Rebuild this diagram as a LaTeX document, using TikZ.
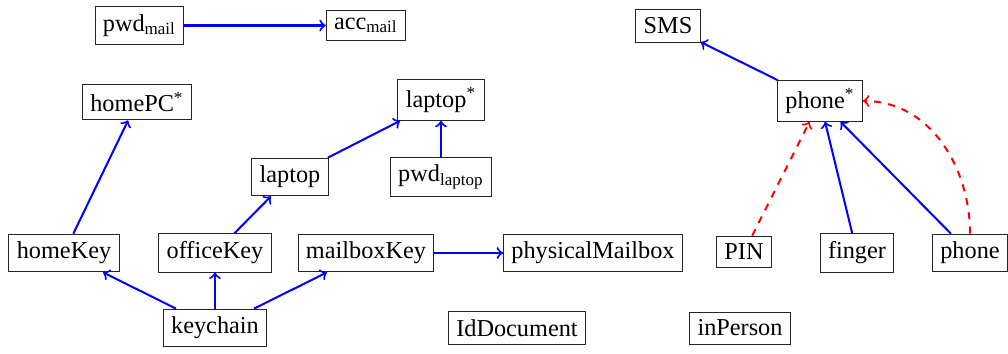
\documentclass[tikz,border=0pt]{standalone}
\usepackage{amsmath}
\usepackage{fontspec}
\setmainfont{Liberation Serif}
\newcommand\mysub[1]{$_{\text{#1}}$}
\newcommand\mysup{$^{\text{*}}$}
\begin{document}
\begin{tikzpicture}[x=0.42pt,y=-0.42pt,
  box/.style={draw=black!85, font=\fontsize{10.2}{12}\selectfont, inner sep=3.3pt},
  bl/.style={draw=blue, line width=0.85pt, -to},
  rd/.style={draw=red, line width=0.85pt, dashed, -to}]
\useasboundingbox (0,0) rectangle (1008,354);
\node[box] (pwdmail) at (139.5,25.5) {pwd\mysub{mail}};
\node[box] (accmail) at (366,25.5) {acc\mysub{mail}};
\node[box] (sms) at (668,26) {SMS};
\node[box] (homepc) at (137,102) {homePC\mysup};
\node[box] (laptopst) at (441,100) {laptop\mysup};
\node[box] (phonest) at (820,101) {phone\mysup};
\node[box] (laptop) at (290,177) {laptop};
\node[box] (pwdlaptop) at (441,177) {pwd\mysub{laptop}};
\node[box] (homekey) at (64,253) {homeKey};
\node[box] (officekey) at (215,253) {officeKey};
\node[box] (mailboxkey) at (366,253) {mailboxKey};
\node[box] (physmail) at (593,253) {physicalMailbox};
\node[box] (pin) at (744,252) {PIN};
\node[box] (finger) at (857,253) {finger};
\node[box] (phone) at (970,253) {phone};
\node[box] (keychain) at (215,328) {keychain};
\node[box] (iddoc) at (517,328) {IdDocument};
\node[box] (inperson) at (740,328) {inPerson};

\draw[bl] (pwdmail) -- (accmail);
\draw[bl] (homekey) -- (homepc);
\draw[bl] (officekey) -- (laptop);
\draw[bl] (laptop) -- (laptopst);
\draw[bl] (pwdlaptop) -- (laptopst);
\draw[bl] (keychain) -- (homekey);
\draw[bl] (keychain) -- (officekey);
\draw[bl] (keychain) -- (mailboxkey);
\draw[bl] (mailboxkey) -- (physmail);
\draw[bl] (phonest) -- (sms);
\draw[bl] (finger) -- (phonest);
\draw[bl] (phone) -- (phonest);
\draw[rd] (pin) -- (phonest);
\draw[rd] (phone) to[out=90,in=0] (phonest);
\end{tikzpicture}
\end{document}
